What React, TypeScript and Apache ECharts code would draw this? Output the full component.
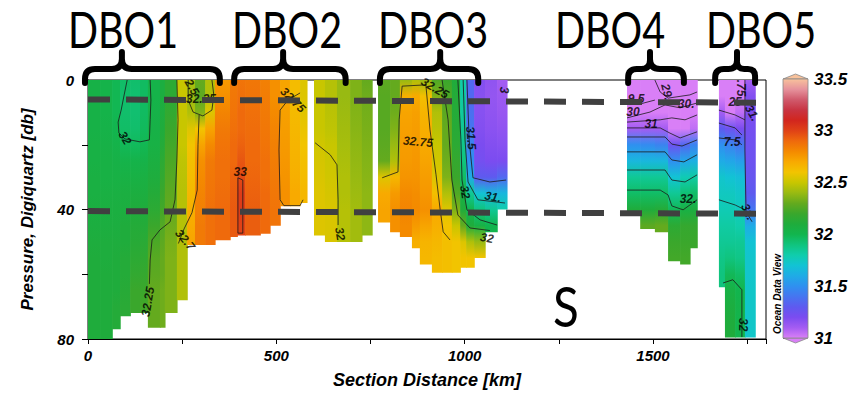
import React, { useEffect, useRef } from 'react';
import * as echarts from 'echarts';

type Col = [number, number, number, number[]];

// Salinity columns: [x0 km, x1 km, bottom db, values at 0,5,10,... db]
const DBO1_COLS: Col[] = [
  [0, 32, 80, [32.04, 32.04, 32.04, 32.04, 32.05, 32.05, 32.06, 32.06, 32.07, 32.08, 32.09, 32.1, 32.1, 32.1, 32.1, 32.1, 32.1]],
  [32, 64, 80, [32.02, 32.02, 32.02, 32.03, 32.04, 32.05, 32.05, 32.06, 32.07, 32.08, 32.09, 32.09, 32.1, 32.1, 32.1, 32.1, 32.1]],
  [64, 85, 77, [31.99, 31.99, 31.99, 32.0, 32.02, 32.04, 32.05, 32.06, 32.07, 32.08, 32.09, 32.1, 32.1, 32.1, 32.12, 32.12]],
  [85, 112, 73, [31.95, 31.94, 31.94, 31.95, 31.98, 32.02, 32.05, 32.07, 32.08, 32.1, 32.1, 32.12, 32.12, 32.13, 32.14]],
  [112, 138, 72, [31.94, 31.93, 31.93, 31.94, 31.97, 32.02, 32.05, 32.08, 32.1, 32.12, 32.13, 32.15, 32.17, 32.2, 32.2]],
  [138, 159, 72, [31.96, 31.96, 31.96, 31.97, 31.99, 32.03, 32.06, 32.08, 32.1, 32.12, 32.14, 32.16, 32.18, 32.2, 32.22]],
  [159, 191, 76.5, [32.02, 32.02, 32.03, 32.04, 32.05, 32.07, 32.09, 32.12, 32.15, 32.2, 32.24, 32.27, 32.28, 32.3, 32.3, 32.3]],
  [191, 204, 76.5, [32.08, 32.08, 32.09, 32.1, 32.12, 32.15, 32.17, 32.2, 32.22, 32.26, 32.28, 32.3, 32.3, 32.32, 32.32, 32.32]],
  [204, 236, 72, [32.15, 32.15, 32.17, 32.2, 32.22, 32.24, 32.26, 32.28, 32.3, 32.32, 32.34, 32.35, 32.35, 32.35, 32.35]],
  [236, 263, 68, [32.5, 32.5, 32.5, 32.5, 32.5, 32.48, 32.47, 32.46, 32.46, 32.46, 32.45, 32.45, 32.45, 32.45]],
  [263, 284, 51, [32.45, 32.4, 32.45, 32.55, 32.6, 32.62, 32.63, 32.65, 32.68, 32.7, 32.72]],
  [284, 311, 51, [32.3, 32.28, 32.35, 32.6, 32.72, 32.78, 32.8, 32.82, 32.83, 32.85, 32.85]],
  [311, 337, 51, [32.45, 32.45, 32.55, 32.72, 32.8, 32.85, 32.86, 32.87, 32.88, 32.88, 32.88]],
];

const DBO2_COLS: Col[] = [
  [337, 377, 49.5, [32.75, 32.78, 32.82, 32.85, 32.87, 32.88, 32.88, 32.89, 32.9, 32.9]],
  [377, 396, 48.5, [32.85, 32.86, 32.87, 32.88, 32.9, 32.9, 32.92, 32.93, 32.94, 32.94]],
  [396, 417, 48, [32.87, 32.88, 32.9, 32.9, 32.92, 32.95, 32.98, 33.02, 33.02, 33.0]],
  [417, 457, 48, [32.86, 32.87, 32.88, 32.89, 32.9, 32.9, 32.91, 32.92, 32.93, 32.93]],
  [457, 483, 47.5, [32.83, 32.84, 32.85, 32.86, 32.87, 32.88, 32.88, 32.9, 32.9, 32.9]],
  [483, 510, 45, [32.78, 32.78, 32.8, 32.82, 32.83, 32.84, 32.85, 32.86, 32.87, 32.87]],
  [510, 536, 39, [32.72, 32.72, 32.73, 32.74, 32.75, 32.76, 32.77, 32.78]],
  [536, 563, 39, [32.63, 32.63, 32.64, 32.65, 32.66, 32.67, 32.68, 32.7]],
  [563, 581, 38, [32.55, 32.55, 32.56, 32.58, 32.6, 32.62, 32.63, 32.65]],
  [600, 629, 48, [32.5, 32.5, 32.5, 32.5, 32.52, 32.53, 32.54, 32.55, 32.55, 32.55]],
  [629, 661, 50, [32.46, 32.46, 32.47, 32.48, 32.5, 32.51, 32.52, 32.53, 32.54, 32.54, 32.54]],
  [661, 696, 50, [32.4, 32.4, 32.41, 32.42, 32.43, 32.44, 32.45, 32.45, 32.46, 32.46, 32.46]],
  [696, 727, 50, [32.35, 32.35, 32.36, 32.37, 32.38, 32.39, 32.4, 32.41, 32.42, 32.42, 32.42]],
  [727, 754, 48, [32.3, 32.32, 32.33, 32.34, 32.35, 32.36, 32.37, 32.38, 32.38, 32.38]],
];

const DBO3_COLS: Col[] = [
  [770, 802, 44, [32.28, 32.27, 32.27, 32.27, 32.28, 32.3, 32.55, 32.7, 32.72]],
  [802, 828, 47, [32.3, 32.3, 32.32, 32.35, 32.4, 32.45, 32.65, 32.75, 32.78, 32.78]],
  [828, 860, 48.5, [32.4, 32.68, 32.72, 32.73, 32.74, 32.75, 32.77, 32.8, 32.82, 32.8]],
  [860, 881, 52, [32.45, 32.7, 32.73, 32.74, 32.75, 32.76, 32.77, 32.79, 32.8, 32.75, 32.68]],
  [881, 913, 57, [32.4, 32.62, 32.66, 32.68, 32.7, 32.72, 32.74, 32.76, 32.78, 32.72, 32.66, 32.65]],
  [913, 940, 59.5, [32.25, 32.35, 32.45, 32.47, 32.5, 32.52, 32.55, 32.62, 32.7, 32.68, 32.65, 32.63]],
  [940, 966, 59.5, [32.2, 32.25, 32.28, 32.3, 32.3, 32.32, 32.35, 32.45, 32.55, 32.6, 32.62, 32.62]],
  [966, 988, 59.5, [32.1, 32.12, 32.12, 32.13, 32.15, 32.18, 32.2, 32.25, 32.35, 32.5, 32.6, 32.6]],
  [988, 1004, 58, [31.8, 31.82, 31.83, 31.85, 31.87, 31.9, 31.95, 32.05, 32.1, 32.3, 32.55, 32.6]],
  [1004, 1025, 58, [31.35, 31.35, 31.38, 31.4, 31.45, 31.5, 31.6, 31.85, 32.0, 32.1, 32.45, 32.6]],
  [1025, 1054, 55, [31.18, 31.17, 31.17, 31.18, 31.2, 31.22, 31.3, 31.7, 31.9, 32.05, 32.4, 32.6]],
  [1054, 1086, 47, [31.15, 31.14, 31.15, 31.16, 31.18, 31.2, 31.3, 31.65, 31.85, 32.0]],
  [1086, 1112, 40, [31.1, 31.12, 31.13, 31.15, 31.17, 31.2, 31.35, 31.65, 31.8]],
];

const DBO4_COLS: Col[] = [
  [1431, 1466, 41, [30.0, 29.5, 30.0, 31.1, 31.5, 31.65, 31.85, 31.95, 32.1]],
  [1466, 1505, 46, [30.2, 29.8, 30.2, 31.1, 31.48, 31.65, 31.85, 31.95, 32.1, 32.28]],
  [1505, 1540, 47, [29.3, 29.6, 30.3, 31.1, 31.45, 31.65, 31.85, 31.95, 32.12, 32.3]],
  [1540, 1572, 56, [29.2, 29.8, 30.5, 30.98, 31.25, 31.5, 31.7, 31.85, 31.98, 32.15, 32.2, 32.22]],
  [1572, 1598, 57, [29.8, 30.2, 30.5, 31.0, 31.35, 31.58, 31.78, 31.92, 32.05, 32.18, 32.2, 32.22]],
  [1598, 1617, 52, [30.2, 30.5, 30.7, 31.05, 31.45, 31.62, 31.82, 31.95, 32.08, 32.18, 32.2]],
];

const DBO5_COLS: Col[] = [
  [1675, 1691, 64, [30.5, 30.8, 31.1, 31.3, 31.5, 31.6, 31.72, 31.75, 31.78, 31.82, 31.85, 31.88, 31.9]],
  [1691, 1718, 79.5, [30.3, 30.6, 31.0, 31.25, 31.45, 31.58, 31.7, 31.75, 31.78, 31.82, 31.85, 31.9, 31.98, 32.05, 32.08, 32.1]],
  [1718, 1744, 79.5, [30.7, 30.9, 31.05, 31.2, 31.4, 31.55, 31.68, 31.73, 31.76, 31.8, 31.85, 31.88, 31.95, 32.0, 32.02, 32.0]],
  [1744, 1771, 79.5, [31.1, 31.18, 31.2, 31.22, 31.24, 31.25, 31.27, 31.3, 31.4, 31.6, 31.7, 31.72, 31.72, 31.73, 31.73, 31.73]],
];

// Contour lines [km, db]
const CONTOURS_DBO1: number[][][] = [
  [[104, 0], [96, 4.6], [88, 9.3], [80, 13], [82, 16.4], [98, 18.2], [138, 19.1], [163, 18.5], [165, 12.3], [167, 6.2], [165, 0]],
  [[236, 0], [239, 12.3], [236, 24.7], [231, 37], [218, 43.8], [191, 46.3], [170, 49.4], [165, 55.6], [163, 63]],
  [[266, 0], [266, 6.2], [279, 9.9], [305, 11.1], [329, 9.3], [334, 4.6], [329, 0]],
  [[295, 10.8], [292, 20], [290, 34], [276, 41], [255, 46], [240, 50.5]],
];
const CONTOURS_DBO2: number[][][] = [
  [[398, 30.2], [398, 47.3], [411, 47.3], [411, 30.9], [398, 30.2]],
  [[563, 4], [531, 6.2], [510, 9.3], [507, 21.6], [510, 37], [520, 38.8], [563, 38.8], [571, 37]],
  [[603, 19.4], [643, 23.1], [661, 26.2], [664, 37], [664, 44.8]],
];
const CONTOURS_DBO3: number[][][] = [
  [[781, 30.2], [823, 28.4], [826, 12.3], [834, 1.9], [897, 1.5], [908, 15.4], [924, 29.3], [935, 40.1], [943, 46.9], [961, 49.4]],
  [[940, 0], [956, 12.3], [966, 30.9], [982, 41.7], [1014, 45.7], [1067, 46.5]],
  [[982, 0], [990, 18.5], [993, 30.9], [1006, 40.1], [1041, 43.2], [1086, 44.8]],
  [[996, 0], [1001, 18.5], [1009, 31.5], [1035, 37], [1107, 38]],
  [[1006, 0], [1012, 18.5], [1022, 30.2], [1067, 31.5], [1110, 30.9]],
];
const CONTOURS_DBO4: number[][][] = [
  [[1431, 6.2], [1466, 7.4], [1505, 6.2]],
  [[1505, 0], [1519, 3.7], [1540, 5.6], [1598, 4.6], [1617, 3.7]],
  [[1431, 11.7], [1492, 9.9], [1532, 7.7], [1572, 8.6], [1617, 7.1]],
  [[1431, 13], [1519, 12.3], [1550, 11.7], [1585, 12.3], [1617, 10.8]],
  [[1431, 14.8], [1519, 14.8], [1545, 16.4], [1572, 17.9], [1617, 16]],
  [[1431, 17.6], [1532, 17.6], [1550, 19.8], [1577, 20.4], [1617, 18.5]],
  [[1431, 22.2], [1532, 22.2], [1550, 24.7], [1582, 25.3], [1617, 23.1]],
  [[1431, 27.8], [1532, 27.8], [1550, 30.9], [1585, 31.5], [1617, 29.3]],
  [[1431, 34], [1519, 34], [1540, 35.5], [1550, 38.9], [1580, 40.1], [1617, 37]],
];
const CONTOURS_DBO5: number[][][] = [
  [[1675, 9.3], [1718, 10.8], [1744, 12.3]],
  [[1675, 13.3], [1718, 14.8], [1736, 17]],
  [[1675, 17.9], [1718, 18.5], [1736, 20]],
  [[1744, 0], [1744, 21.6], [1747, 40.7], [1763, 43.8]],
  [[1675, 37], [1718, 38.6], [1744, 40.1]],
  [[1686, 62.7], [1712, 61.7], [1736, 64.8], [1736, 79.4]],
];

// Contour labels: [km, db, text, rotation]
const CONTOUR_LABELS: [number, number, string, number][] = [
  [98, 17.9, '32', -60], [276, 2.2, '2.5', -60], [300, 6.0, '32.25', 0], [404, 28.3, '33', 0],
  [544, 6.2, '32.75', -45], [159, 68.5, '32.25', 80], [258, 49.4, '32.7', -50], [669, 47.5, '32', -80],
  [921, 2.5, '32.25', -30], [876, 19.1, '32.75', -5], [1017, 17.9, '31.5', -85], [1001, 34.6, '32', -80],
  [1075, 36.1, '31.', -10], [1059, 48.8, '32', -10], [1104, 3.1, '3', -90],
  [1455, 5.9, '9.5', 0], [1447, 9.9, '30', 0], [1537, 3.7, '29.', -75], [1588, 7.4, '30.', 0],
  [1495, 13.6, '31', 0], [1593, 36.7, '32.', 0],
  [1734, 2.5, '.75', -90], [1718, 6.8, '25', 0], [1763, 10.2, '31.', -60], [1710, 19.1, '7.5', 0],
  [1752, 40.7, '31.', -65], [1739, 75.6, '32', -90],
];

// Braces above sections: [start km, tip km, end km]
const BRACES: [number, number, number][] = [
  [-8, 90, 350], [388, 518, 684], [775, 935, 1036], [1434, 1492, 1582], [1665, 1723, 1771],
];
const SECTION_NAMES = ['DBO1', 'DBO2', 'DBO3', 'DBO4', 'DBO5'];

// Reference dashed lines [km, db]
const DASH_LINES: number[][][] = [
  [[0, 6.0], [1790, 7.0]],
  [[0, 40.5], [1790, 41.3]],
];

const CMAP: [number, string][] = [
  [31.0, '#d97ff7'], [31.1, '#a45cf2'], [31.2, '#7b4cf0'], [31.3, '#5e5aef'], [31.4, '#4675f0'],
  [31.5, '#2f90f0'], [31.6, '#1fabe6'], [31.7, '#12c3d4'], [31.8, '#10cdac'], [31.9, '#10c47e'],
  [32.0, '#12b54e'], [32.1, '#1fac3c'], [32.2, '#3aa72c'], [32.3, '#64aa1e'], [32.4, '#98ba12'],
  [32.5, '#c8c600'], [32.6, '#f2c400'], [32.7, '#f8aa00'], [32.8, '#f48a00'], [32.9, '#ef6a0c'],
  [33.0, '#e04216'], [33.1, '#d2261e'], [33.2, '#c83442'], [33.3, '#d05a6c'], [33.4, '#e6929c'],
  [33.5, '#f8c29c'],
];

function hexRgb(h: string) {
  return [parseInt(h.slice(1, 3), 16), parseInt(h.slice(3, 5), 16), parseInt(h.slice(5, 7), 16)];
}
function salColor(v: number): string {
  const c = Math.max(31, Math.min(33.5, v));
  for (let i = 0; i < CMAP.length - 1; i++) {
    const [a, ca] = CMAP[i];
    const [b, cb] = CMAP[i + 1];
    if (c >= a && c <= b) {
      const t = (c - a) / (b - a);
      const A = hexRgb(ca), B = hexRgb(cb);
      const r = A.map((x, k) => Math.round(x + (B[k] - x) * t));
      return `rgb(${r[0]},${r[1]},${r[2]})`;
    }
  }
  return CMAP[CMAP.length - 1][1];
}

const ALL_COLS: Col[] = [...DBO1_COLS, ...DBO2_COLS, ...DBO3_COLS, ...DBO4_COLS, ...DBO5_COLS];
const ALL_CONTOURS = [...CONTOURS_DBO1, ...CONTOURS_DBO2, ...CONTOURS_DBO3, ...CONTOURS_DBO4, ...CONTOURS_DBO5];

const FONT = "'Liberation Sans', Arial, sans-serif";

export default function App() {
  const ref = useRef<HTMLDivElement>(null);
  useEffect(() => {
    if (!ref.current) return;
    const chart = echarts.init(ref.current, null, { renderer: 'svg' });
    const axisFont = { fontFamily: FONT, fontWeight: 'bold', fontStyle: 'italic', color: '#000' };

    const series: any[] = [];
    series.push({
      type: 'custom',
      xAxisIndex: 0,
      yAxisIndex: 0,
      silent: true,
      z: 1,
      data: ALL_COLS.map((c) => [c[0], c[1], c[2]]),
      encode: { x: [0, 1], y: 2 },
      renderItem: (params: any, api: any) => {
        const col = ALL_COLS[params.dataIndex];
        const p0 = api.coord([col[0], 0]);
        const p1 = api.coord([col[1], col[2]]);
        const vals = col[3];
        const stops: any[] = [];
        vals.forEach((v, i) => {
          const off = (i * 5) / col[2];
          if (off <= 1) stops.push({ offset: off, color: salColor(v) });
        });
        if (stops[stops.length - 1].offset < 1) stops.push({ offset: 1, color: stops[stops.length - 1].color });
        return {
          type: 'rect',
          shape: { x: p0[0], y: p0[1], width: p1[0] - p0[0] + 0.7, height: p1[1] - p0[1] },
          style: { fill: new echarts.graphic.LinearGradient(0, 0, 0, 1, stops), stroke: null },
        };
      },
    });
    ALL_CONTOURS.forEach((line) => {
      series.push({
        type: 'line', xAxisIndex: 0, yAxisIndex: 0, data: line, symbol: 'none', silent: true, z: 2,
        lineStyle: { color: '#1a1a1a', width: 0.8 },
      });
    });
    series.push({
      type: 'scatter', xAxisIndex: 0, yAxisIndex: 0, symbolSize: 0, silent: true, z: 3,
      data: CONTOUR_LABELS.map((l) => ({ value: [l[0], l[1]], label: { formatter: l[2], rotate: l[3] } })),
      label: { show: true, position: 'inside', fontSize: 12, fontFamily: FONT, fontWeight: 'bold', fontStyle: 'italic', color: '#000' },
    });
    DASH_LINES.forEach((line) => {
      series.push({
        type: 'line', xAxisIndex: 0, yAxisIndex: 0, data: line, symbol: 'none', silent: true, z: 5, clip: false,
        lineStyle: { color: '#404040', width: 6, type: [22, 16] },
      });
    });
    series.push({
      type: 'custom', xAxisIndex: 0, yAxisIndex: 0, silent: true, z: 6, clip: false,
      data: BRACES.map((b) => [b[0], b[1], b[2]]),
      encode: { x: [0, 2] },
      renderItem: (params: any, api: any) => {
        const b = BRACES[params.dataIndex];
        const s = api.coord([b[0], 0]);
        const X0 = s[0];
        const base = s[1];
        const XP = api.coord([b[1], 0])[0];
        const X1 = api.coord([b[2], 0])[0];
        const Yb = base + 3, Yh = base - 11, Yt = base - 28;
        const r1 = Math.min(10, (XP - X0) / 2.5);
        const r2 = Math.min(10, (X1 - XP) / 2.5);
        const d = `M${X0},${Yb} L${X0},${Yh + r1} Q${X0},${Yh} ${X0 + r1},${Yh} L${XP - r1},${Yh} Q${XP},${Yh} ${XP},${Yh - r1} L${XP},${Yt} M${XP},${Yh - r2} Q${XP},${Yh} ${XP + r2},${Yh} L${X1 - r2},${Yh} Q${X1},${Yh} ${X1},${Yh + r2} L${X1},${Yb}`;
        return {
          type: 'path',
          shape: { pathData: d },
          style: { fill: 'none', stroke: '#000', lineWidth: 6, lineCap: 'round', lineJoin: 'round' },
        };
      },
    });
    // Colour bar
    series.push({
      type: 'custom', xAxisIndex: 1, yAxisIndex: 1, silent: true, clip: false,
      data: [[0, 31, 33.5]],
      renderItem: (_p: any, api: any) => {
        const top = api.coord([0, 33.5]);
        const bot = api.coord([1, 31]);
        const stops = CMAP.map(([v, c]) => ({ offset: (33.5 - v) / 2.5, color: c }));
        stops.sort((a, b) => a.offset - b.offset);
        const xm = (top[0] + bot[0]) / 2;
        return {
          type: 'group',
          children: [
            {
              type: 'polygon',
              shape: { points: [[top[0], top[1]], [xm, top[1] - 5], [bot[0], top[1]]] },
              style: { fill: salColor(33.5), stroke: '#888', lineWidth: 0.8 },
            },
            {
              type: 'polygon',
              shape: { points: [[top[0], bot[1]], [xm, bot[1] + 5], [bot[0], bot[1]]] },
              style: { fill: salColor(31), stroke: '#888', lineWidth: 0.8 },
            },
            {
              type: 'rect',
              shape: { x: top[0], y: top[1], width: bot[0] - top[0], height: bot[1] - top[1] },
              style: { fill: new echarts.graphic.LinearGradient(0, 0, 0, 1, stops), stroke: '#888', lineWidth: 0.8 },
            },
          ],
        };
      },
    });

    const graphic: any[] = [];
    const nameX = [68, 232, 378, 555, 706];
    SECTION_NAMES.forEach((n, i) => {
      graphic.push({
        type: 'text', x: nameX[i], y: 29, scaleX: 0.79,
        style: { text: n, fontFamily: 'Lato, sans-serif', fontSize: 50, fill: '#000', align: 'left', verticalAlign: 'middle' },
      });
    });
    graphic.push({
      type: 'text', x: 566, y: 305, scaleX: 0.85,
      style: { text: 'S', fontFamily: 'Lato, sans-serif', fontSize: 56, fill: '#000', align: 'center', verticalAlign: 'middle' },
    });
    graphic.push({
      type: 'text', x: 777, y: 294, rotation: Math.PI / 2,
      style: { text: 'Ocean Data View', fontFamily: FONT, fontSize: 10, fontWeight: 'bold', fontStyle: 'italic', fill: '#000', align: 'center', verticalAlign: 'middle' },
    });

    chart.setOption({
      animation: false,
      backgroundColor: '#fff',
      grid: [
        { left: 88, top: 80, right: 86, bottom: 62, show: true, borderColor: '#000', borderWidth: 1, backgroundColor: 'transparent' },
        { left: 783, top: 79, width: 25, height: 259 },
      ],
      xAxis: [
        {
          gridIndex: 0, type: 'value', min: 0, max: 1800, interval: 250, position: 'bottom',
          axisLine: { show: true, onZero: false, lineStyle: { color: '#000', width: 1 } },
          axisTick: { show: true, length: 5, lineStyle: { color: '#000' } },
          axisLabel: { ...axisFont, fontSize: 15, margin: 9, formatter: (v: number) => (v % 500 === 0 ? String(v) : '') },
          splitLine: { show: false },
          name: 'Section Distance [km]', nameLocation: 'middle', nameGap: 32,
          nameTextStyle: { ...axisFont, fontSize: 18 },
        },
        { gridIndex: 1, type: 'value', min: 0, max: 1, show: false },
      ],
      yAxis: [
        {
          gridIndex: 0, type: 'value', min: 0, max: 80, interval: 20, inverse: true,
          axisLine: { show: true, onZero: false, lineStyle: { color: '#000', width: 1 } },
          axisTick: { show: true, length: 6, lineStyle: { color: '#000' } },
          axisLabel: { ...axisFont, fontSize: 15, margin: 14, formatter: (v: number) => (v % 40 === 0 ? String(v) : '') },
          splitLine: { show: false },
          name: 'Pressure, Digiquartz [db]', nameLocation: 'middle', nameGap: 52, nameRotate: 90,
          nameTextStyle: { ...axisFont, fontSize: 17 },
        },
        {
          gridIndex: 1, type: 'value', min: 31, max: 33.5, interval: 0.5, position: 'right',
          axisLine: { show: false },
          axisTick: { show: true, length: 5, lineStyle: { color: '#000' } },
          axisLabel: { ...axisFont, fontSize: 17, margin: 6 },
          splitLine: { show: false },
        },
      ],
      graphic,
      series,
    });
    return () => chart.dispose();
  }, []);
  return <div ref={ref} style={{ position: 'fixed', left: 0, top: 0, width: 852, height: 401 }} />;
}
